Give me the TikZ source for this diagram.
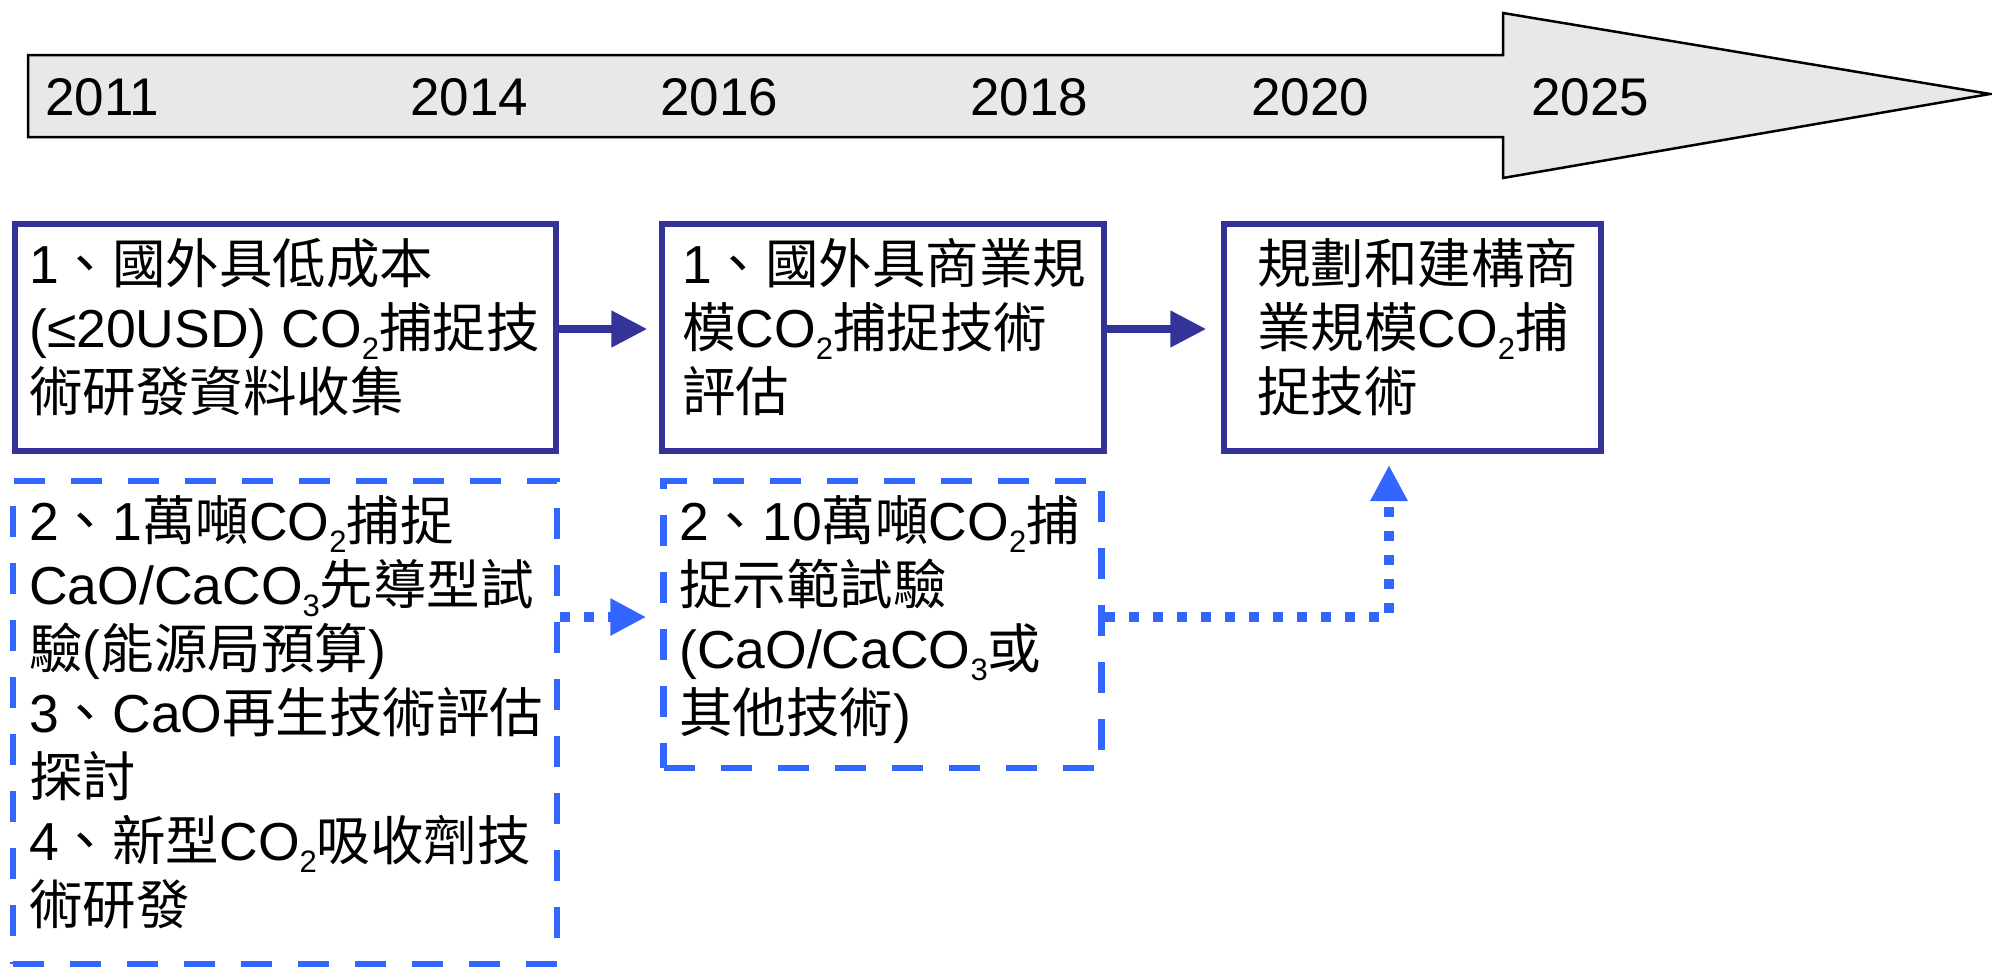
\documentclass[tikz,border=0pt]{standalone}
\usepackage{fontspec}
\setmainfont{Liberation Sans}
\newfontfamily\zhfont{Noto Sans CJK TC}
\newcommand\zh[1]{{\zhfont #1}}
\newcommand\subs[1]{\raisebox{-12pt}{\fontsize{31}{31}\selectfont #1}}
\usetikzlibrary{arrows.meta}
\definecolor{navy}{HTML}{333399}
\definecolor{dblue}{HTML}{3366FF}
\definecolor{arrowgray}{HTML}{E8E8E8}
\tikzset{
  solidbox/.style={draw=navy, line width=5.5pt, rectangle, inner sep=0pt},
  dashbox/.style={draw=dblue, line width=6.5pt, rectangle, inner sep=0pt, dash pattern=on 31pt off 26pt},
  txt/.style={anchor=base west, inner sep=0pt, align=left, font=\fontsize{53.5}{64}\selectfont},
  yr/.style={anchor=base west, inner sep=0pt, font=\fontsize{53}{64}\selectfont},
  solidarrow/.style={draw=navy, line width=8pt, -{Triangle[length=36pt,width=35pt]}},
  dotarrow/.style={draw=dblue, line width=10.5pt, dash pattern=on 10pt off 14pt, -{Triangle[length=36pt,width=35pt]}},
}
\begin{document}
\begin{tikzpicture}[x=1pt,y=-1pt]
\useasboundingbox[fill=white] (0,0) rectangle (1992,969);
% timeline arrow
\draw[line width=2.5pt, fill=arrowgray, line join=miter]
  (28,55) -- (1503,55) -- (1503,13) -- (1990,94) -- (1503,178) -- (1503,137) -- (28,137) -- cycle;
\node[yr] (y2011) at (45,115) {2011};
\node[yr] (y2014) at (410,115) {2014};
\node[yr] (y2016) at (660,115) {2016};
\node[yr] (y2018) at (970,115) {2018};
\node[yr] (y2020) at (1251,115) {2020};
\node[yr] (y2025) at (1531,115) {2025};
% solid boxes
\node[solidbox, minimum width=541pt, minimum height=227pt] (b1) at (285.5,337.5) {};
\node[solidbox, minimum width=442pt, minimum height=227pt] (b2) at (883,337.5) {};
\node[solidbox, minimum width=377pt, minimum height=227pt] (b3) at (1412.5,337.5) {};
% dashed boxes
\node[dashbox, minimum width=544pt, minimum height=483pt] (d1) at (285,722.5) {};
\node[dashbox, minimum width=438pt, minimum height=287pt] (d2) at (882.5,624.5) {};
% texts (anchor at baseline of last line)
\node[txt] (t1) at (29,411) {1\zh{、國外具低成本}\\(≤20USD) CO\subs{2}\zh{捕捉技}\\\zh{術研發資料收集}};
\node[txt] (t2) at (682,411) {1\zh{、國外具商業規}\\\zh{模}CO\subs{2}\zh{捕捉技術}\\\zh{評估}};
\node[txt] (t3) at (1257,411) {\zh{規劃和建構商}\\\zh{業規模}CO\subs{2}\zh{捕}\\\zh{捉技術}};
\node[txt] (t4) at (29,924) {2\zh{、}1\zh{萬噸}CO\subs{2}\zh{捕捉}\\CaO/CaCO\subs{3}\zh{先導型試}\\\zh{驗}(\zh{能源局預算})\\3\zh{、}CaO\zh{再生技術評估}\\\zh{探討}\\4\zh{、新型}CO\subs{2}\zh{吸收劑技}\\\zh{術研發}};
\node[txt] (t5) at (679,732) {2\zh{、}10\zh{萬噸}CO\subs{2}\zh{捕}\\\zh{捉示範試驗}\\(CaO/CaCO\subs{3}\zh{或}\\\zh{其他技術})};
% connectors
\coordinate (ya) at (0,329);
\coordinate (yb) at (0,617);
\coordinate (c3) at (1389,451);
\draw[solidarrow, shorten >=12pt] (b1.east |- ya) -- (b2.west |- ya);
\draw[solidarrow, shorten >=15pt] (b2.east |- ya) -- (b3.west |- ya);
\draw[dotarrow, shorten >=14pt] (d1.east |- yb) -- (d2.west |- yb);
\draw[dotarrow, shorten >=14pt] (d2.east |- yb) -| (c3);
\end{tikzpicture}
\end{document}
